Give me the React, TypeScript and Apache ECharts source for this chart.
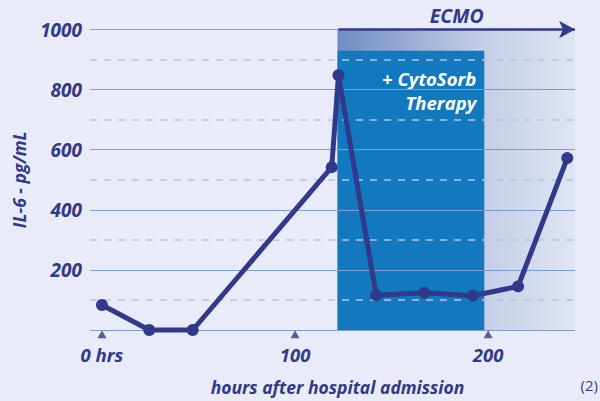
import React, { useEffect, useRef } from "react";
import * as echarts from "echarts";

const hours = [0, 24.5, 47, 119, 122.5, 142, 167, 192, 215.5, 241];
const il6 = [83, 0, 0, 542, 848, 116, 124, 114, 145, 572];
const xTicks = [0, 100, 200];
const ecmoStart = 122.5;
const cytoStart = 122;
const cytoEnd = 198;
const cytoTop = 929;
const xMin = -6.2;
const xMax = 245;

const NAVY = "#31398a";
const FONT = "'Open Sans', 'Noto Sans', sans-serif";

export default function App() {
  const ref = useRef<HTMLDivElement>(null);
  useEffect(() => {
    if (!ref.current) return;
    const chart = echarts.init(ref.current, null, { renderer: "svg" });
    chart.setOption({
      animation: false,
      backgroundColor: "#e9ecf8",
      textStyle: { fontFamily: FONT },
      grid: { left: 90, right: 25, top: 29.5, bottom: 69 },
      xAxis: {
        type: "value",
        min: xMin,
        max: xMax,
        z: 3,
        axisLine: { show: false },
        axisTick: { show: false },
        splitLine: { show: false },
        axisLabel: {
          customValues: xTicks,
          formatter: (v: number) => (v === 0 ? "0 hrs" : String(v)),
          color: NAVY,
          fontSize: 18.5,
          fontWeight: "bold",
          fontStyle: "italic",
          fontFamily: FONT,
          margin: 15,
        },
        name: "hours after hospital admission",
        nameLocation: "middle",
        nameGap: 48,
        nameTextStyle: {
          color: NAVY,
          fontSize: 17.5,
          fontWeight: "bold",
          fontStyle: "italic",
          fontFamily: FONT,
          padding: [0, 0, 0, 10],
        },
      },
      yAxis: {
        type: "value",
        min: 0,
        max: 1000,
        interval: 200,
        z: 3,
        axisLine: { show: false },
        axisTick: { show: false },
        minorTick: { show: false, splitNumber: 2 },
        splitLine: { show: true, lineStyle: { color: "#7f9ecf", width: 1 } },
        minorSplitLine: {
          show: true,
          lineStyle: { color: "#b6c4e2", width: 1.5, type: [7, 7] },
        },
        axisLabel: {
          formatter: (v: number) => (v === 0 ? "" : String(v)),
          color: NAVY,
          fontSize: 19,
          fontWeight: "bold",
          fontStyle: "italic",
          fontFamily: FONT,
          margin: 8,
        },
        name: "IL-6 - pg/mL",
        nameLocation: "middle",
        nameGap: 62,
        nameTextStyle: {
          color: NAVY,
          fontSize: 17.5,
          fontWeight: "bold",
          fontStyle: "italic",
          fontFamily: FONT,
        },
      },
      series: [
        {
          type: "line",
          data: [],
          z: 1,
          silent: true,
          clip: false,
          markArea: {
            silent: true,
            data: [
              [
                {
                  coord: [ecmoStart - 0.5, 1000],
                  itemStyle: {
                    color: new echarts.graphic.LinearGradient(0, 0, 1, 0, [
                      { offset: 0, color: "#6f8dc2" },
                      { offset: 0.6, color: "#c3cde6" },
                      { offset: 1, color: "#e0e5f4" },
                    ]),
                  },
                },
                { coord: [xMax, 0] },
              ],
            ],
          },
        },
        {
          type: "line",
          data: [],
          z: 2,
          silent: true,
          clip: false,
          markArea: {
            silent: true,
            itemStyle: { color: "#1379be" },
            label: {
              show: true,
              position: "insideTopRight",
              distance: 0,
              padding: [16, 8, 0, 0],
              formatter: "+ CytoSorb\nTherapy",
              align: "right",
              color: "#ffffff",
              fontSize: 18.5,
              lineHeight: 24,
              fontWeight: "bold",
              fontStyle: "italic",
              fontFamily: FONT,
            },
            data: [[{ coord: [cytoStart, cytoTop] }, { coord: [cytoEnd, 0] }]],
          },
        },
        {
          type: "line",
          data: [],
          z: 5,
          silent: true,
          clip: false,
          markLine: {
            silent: true,
            symbol: ["none", "none"],
            lineStyle: { color: NAVY, width: 2.5, type: "solid" },
            data: [
              [
                {
                  coord: [ecmoStart, 1000],
                  symbol: "none",
                  label: {
                    show: true,
                    position: "middle",
                    formatter: "ECMO",
                    color: NAVY,
                    fontSize: 19.5,
                    fontWeight: "bold",
                    fontStyle: "italic",
                    fontFamily: FONT,
                    distance: 4,
                  },
                },
                { coord: [xMax, 1000], symbol: "arrow", symbolSize: [13, 16] },
              ],
              [
                { coord: [ecmoStart, 1027], label: { show: false } },
                { coord: [ecmoStart, 973] },
              ],
            ],
          },
        },
        {
          type: "scatter",
          data: xTicks.map((x) => [x, -14]),
          symbol: "triangle",
          symbolSize: [9, 8],
          itemStyle: { color: NAVY },
          clip: false,
          silent: true,
          z: 6,
        },
        {
          type: "line",
          data: hours.map((h, i) => [h, il6[i]]),
          symbol: "circle",
          symbolSize: 12,
          showAllSymbol: true,
          lineStyle: { color: NAVY, width: 5 },
          itemStyle: { color: NAVY },
          clip: false,
          z: 10,
        },
      ],
      graphic: [
        {
          type: "text",
          right: 2,
          top: 377,
          style: {
            text: "(2)",
            fill: "#3a3f7a",
            fontSize: 15,
            fontFamily: FONT,
          },
        },
      ],
    });
    return () => chart.dispose();
  }, []);
  return (
    <div
      ref={ref}
      style={{ position: "fixed", left: 0, top: 0, width: 600, height: 401 }}
    />
  );
}
